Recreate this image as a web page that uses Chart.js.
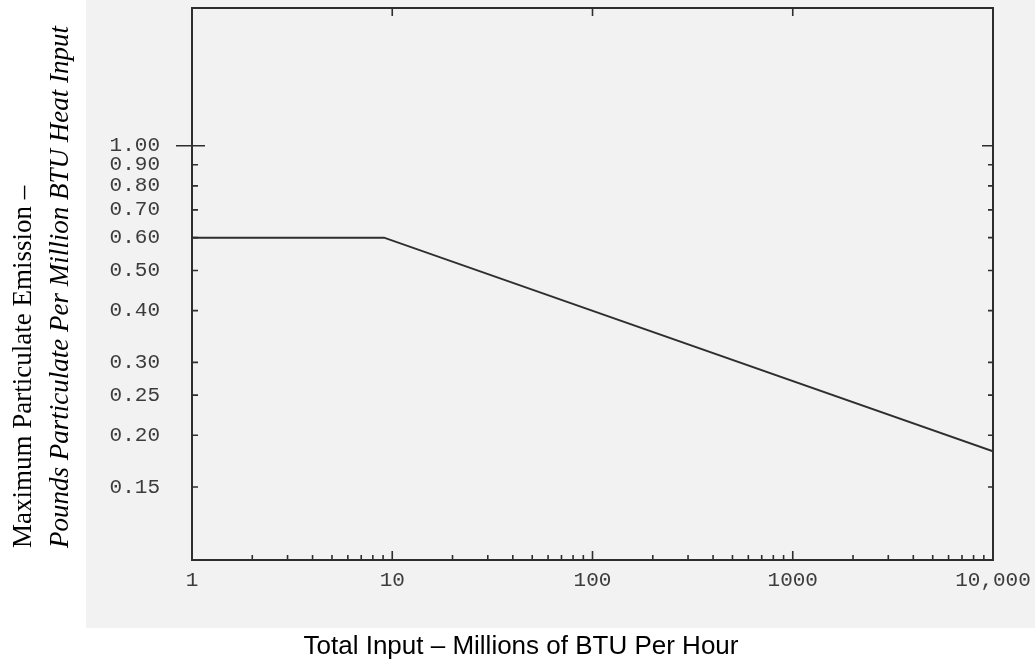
<!DOCTYPE html>
<html>
<head>
<meta charset="utf-8">
<script src="https://cdn.jsdelivr.net/npm/chart.js@4/dist/chart.umd.min.js"></script>
<style>
  html, body { margin: 0; padding: 0; background: #fff; }
  #wrap { position: relative; width: 1035px; height: 664px; }
</style>
</head>
<body>
<div id="wrap"><canvas id="chart"></canvas></div>
<script>
// ── Data ──────────────────────────────────────────────────────────────────
const inputMBtu   = [1, 9.1, 10000];          // total heat input, MBTU/hr
const maxEmission = [0.60, 0.60, 0.183];      // lb particulate per MBTU

const xTickValues = [1, 10, 100, 1000, 10000];
const xTickLabels = ['1', '10', '100', '1000', '10,000'];
const yTickValues = [1.00, 0.90, 0.80, 0.70, 0.60, 0.50, 0.40, 0.30, 0.25, 0.20, 0.15];

const yTitleLine1 = 'Maximum Particulate Emission \u2013';
const yTitleLine2 = 'Pounds Particulate Per Million BTU Heat Input';
const xTitle      = 'Total Input \u2013 Millions of BTU Per Hour';

// ── Style tokens ──────────────────────────────────────────────────────────
const INK      = '#2e2e2e';
const TICK_INK = '#3c3c3c';
const PAPER    = '#f2f2f2';
const MONO     = '"Liberation Mono", "Courier New", monospace';
const SERIF    = '"Liberation Serif", "Times New Roman", serif';

// paper, frame, inward tick marks and the two axis titles
const scanPlugin = {
  id: 'scan',
  beforeDraw(chart) {
    const c = chart.ctx;
    c.save();
    c.fillStyle = '#fff';
    c.fillRect(0, 0, chart.width, chart.height);
    c.fillStyle = PAPER;
    c.fillRect(86, 0, chart.width - 86, 628);
    c.restore();
  },
  afterDatasetsDraw(chart) {
    const c  = chart.ctx;
    const a  = chart.chartArea;
    const xs = chart.scales.x;
    const ys = chart.scales.y;
    c.save();
    c.strokeStyle = INK;
    c.lineWidth = 2;
    c.strokeRect(a.left, a.top, a.right - a.left, a.bottom - a.top);

    c.lineWidth = 1.6;
    c.beginPath();
    // y ticks, left + right edges
    yTickValues.forEach(v => {
      const py = ys.getPixelForValue(v);
      const big = v === 1;
      c.moveTo(a.left - (big ? 16 : 0), py);
      c.lineTo(a.left + (big ? 13 : 6), py);
      c.moveTo(a.right - (big ? 11 : 5), py);
      c.lineTo(a.right, py);
    });
    // x minor ticks 2..9 per decade on the bottom edge
    for (let d = 1; d < 10000; d *= 10) {
      for (let m = 2; m <= 9; m++) {
        const px = xs.getPixelForValue(m * d);
        c.moveTo(px, a.bottom);
        c.lineTo(px, a.bottom - 5);
      }
    }
    // x major ticks, bottom and top
    xTickValues.slice(1, -1).forEach(v => {
      const px = xs.getPixelForValue(v);
      c.moveTo(px, a.bottom);
      c.lineTo(px, a.bottom - 9);
      c.moveTo(px, a.top);
      c.lineTo(px, a.top + 8);
    });
    c.stroke();
    c.restore();
  },
  afterDraw(chart) {
    const c = chart.ctx;
    c.save();
    c.fillStyle = '#000';
    c.textBaseline = 'middle';
    c.textAlign = 'left';

    c.save();
    c.translate(24, 548);
    c.rotate(-Math.PI / 2);
    c.font = '27px ' + SERIF;
    c.fillText(yTitleLine1, 0, 0);
    c.restore();

    c.save();
    c.translate(61, 548);
    c.rotate(-Math.PI / 2);
    c.font = 'italic 27px ' + SERIF;
    c.fillText(yTitleLine2, 0, 0);
    c.restore();

    c.textAlign = 'center';
    c.textBaseline = 'alphabetic';
    c.font = '26px "Liberation Sans", Arial, sans-serif';
    c.fillText(xTitle, 521, 654);
    c.restore();
  },
};

new Chart(document.getElementById('chart'), {
  type: 'line',
  data: {
    datasets: [{
      data: inputMBtu.map((x, i) => ({ x, y: maxEmission[i] })),
      borderColor: INK,
      borderWidth: 2,
      pointRadius: 0,
      tension: 0,
      fill: false,
    }],
  },
  options: {
    responsive: true,
    maintainAspectRatio: false,
    animation: false,
    layout: { padding: { left: 88, top: 8, right: 42, bottom: 0 } },
    plugins: {
      legend:  { display: false },
      tooltip: { enabled: false },
    },
    scales: {
      x: {
        type: 'logarithmic',
        min: 1,
        max: 10000,
        grid:   { display: false, drawTicks: false },
        border: { display: false },
        afterBuildTicks: s => { s.ticks = xTickValues.map(value => ({ value })); },
        // fixed height; let the end labels hang into the margins
        afterFit: s => { s.height = 104; s.paddingLeft = 0; s.paddingRight = 0; },
        ticks: {
          autoSkip: false,
          maxRotation: 0,
          padding: 8,
          color: TICK_INK,
          font: { family: MONO, size: 21 },
          callback: (v, i) => xTickLabels[i],
        },
      },
      y: {
        type: 'logarithmic',
        min: 0.1,
        max: 2.15,
        grid:   { display: false, drawTicks: false },
        border: { display: false },
        afterBuildTicks: s => { s.ticks = yTickValues.map(value => ({ value })); },
        // fixed width; drop the label padding Chart.js adds above/below
        afterFit: s => { s.width = 104; s.paddingTop = 0; s.paddingBottom = 0; },
        ticks: {
          autoSkip: false,
          padding: 32,
          color: TICK_INK,
          font: { family: MONO, size: 21 },
          callback: v => Number(v).toFixed(2),
        },
      },
    },
  },
  plugins: [scanPlugin],
});
</script>
</body>
</html>
